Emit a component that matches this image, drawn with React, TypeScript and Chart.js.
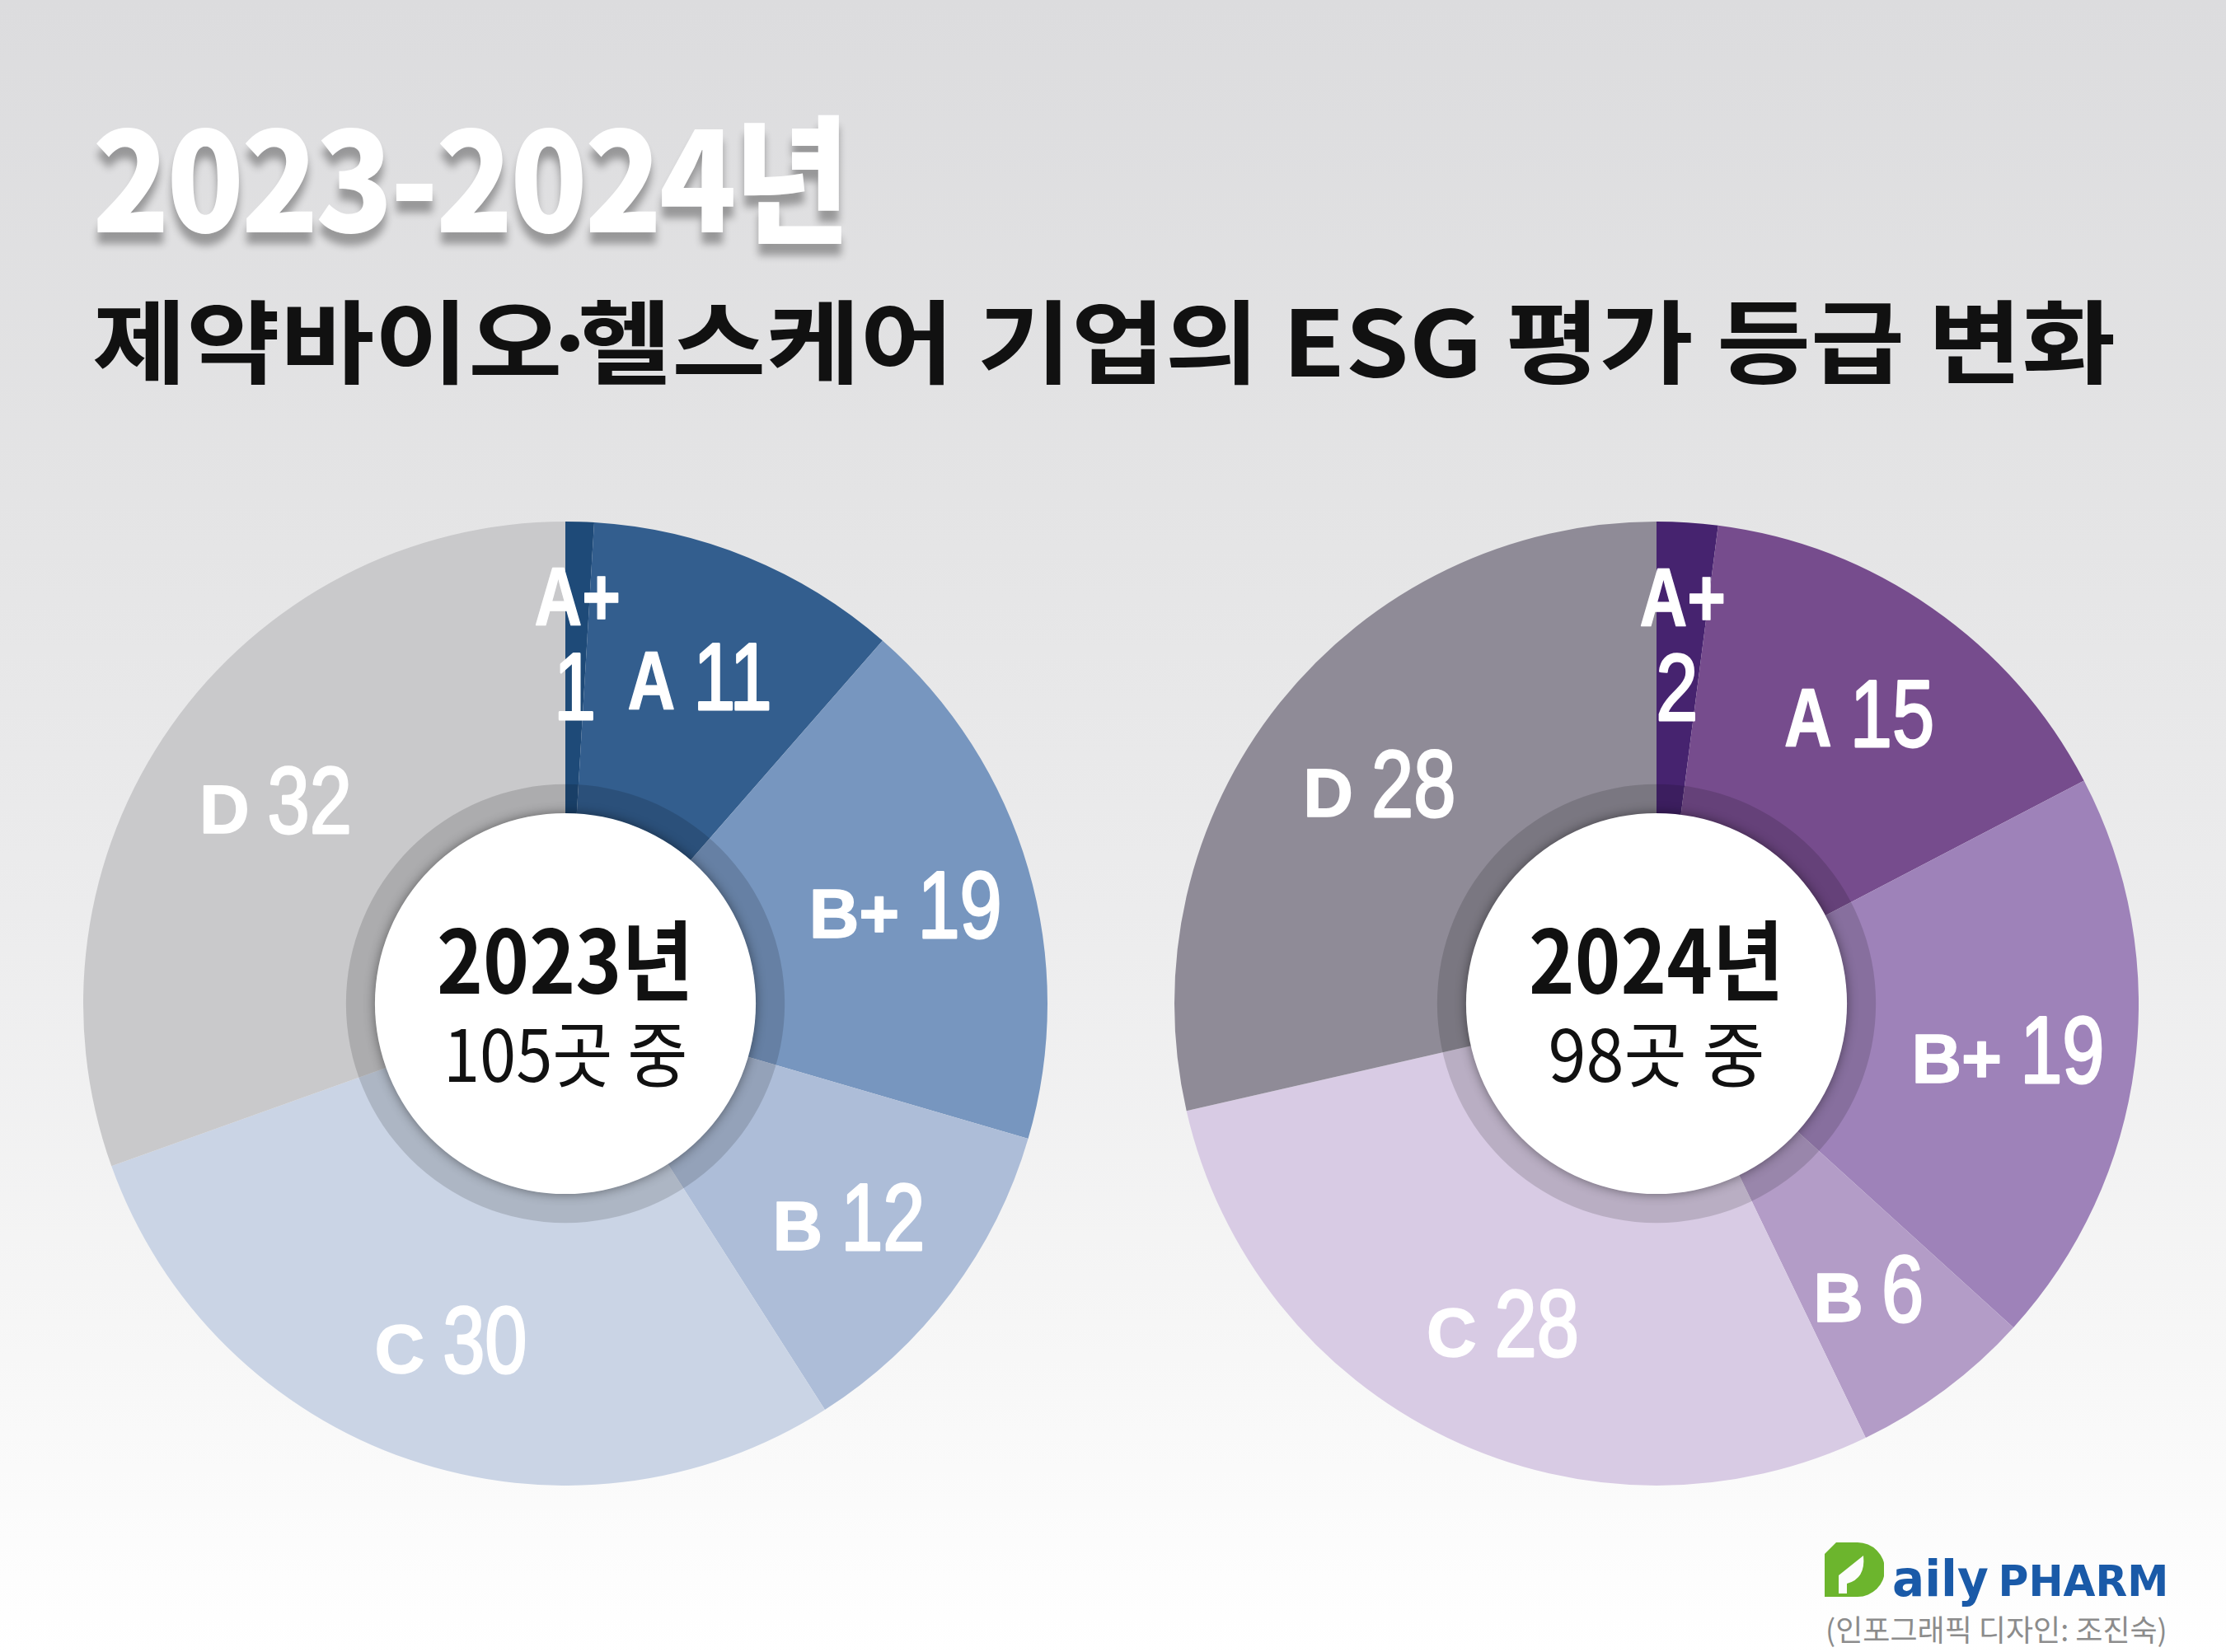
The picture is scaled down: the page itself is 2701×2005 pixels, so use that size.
import React, { useEffect, useLayoutEffect, useRef } from 'react';
import { Chart, registerables } from 'chart.js';

Chart.register(...registerables);

// ---- data ----
const GRADES = ['A+', 'A', 'B+', 'B', 'C', 'D'];
const VALUES_2023 = [1, 11, 19, 12, 30, 32];
const VALUES_2024 = [2, 15, 19, 6, 28, 28];
const COLORS_2023 = ['#1e4a78', '#335e8e', '#7796bf', '#adbdd8', '#cad4e5', '#c9c9cb'];
const COLORS_2024 = ['#46236f', '#764c8d', '#9e82b9', '#b39cc7', '#d8cbe4', '#8f8b97'];
const YEAR_LABELS = ['2023년', '2024년'];
const TITLE = '2023-2024년';
const SUBTITLE_A = '제약바이오';
const SUBTITLE_B = '헬스케어 기업의 ESG 평가 등급 변화';
const CREDIT = '(인포그래픽 디자인: 조진숙)';

// ---- layout ----
const PAGE_W = 2701;
const PAGE_H = 2005;
const R = 585;
const CY = 1218;
const CX = [686, 2010];
const RING_OUT = 0.455;
const RING_IN = 0.395;
const LABEL_R = 0.735;

const CAT_FONT = "'Liberation Sans', Arial, sans-serif";

function drawPart(ctx: CanvasRenderingContext2D, text: string, font: string, sx: number, x: number, y: number, lw: number) {
  ctx.save();
  ctx.font = font;
  ctx.translate(x, y);
  ctx.scale(sx, 1);
  ctx.fillText(text, 0, 0);
  ctx.lineWidth = lw;
  ctx.lineJoin = 'round';
  ctx.strokeText(text, 0, 0);
  ctx.restore();
}

function widthOf(ctx: CanvasRenderingContext2D, text: string, font: string, sx: number) {
  ctx.save();
  ctx.font = font;
  const w = ctx.measureText(text).width * sx;
  ctx.restore();
  return w;
}

const NUM_FONT = `115px ${CAT_FONT}`;
const NUM_SX = 0.8;
const letterStyle = (g: string): [string, number] =>
  g.startsWith('A') ? [`bold 100px ${CAT_FONT}`, 0.8] : [`bold 84px ${CAT_FONT}`, 1];

const piePlugin = {
  id: 'pieDecor',
  afterDatasetsDraw(chart: any) {
    const ctx: CanvasRenderingContext2D = chart.ctx;
    const meta = chart.getDatasetMeta(0);
    const arcs = meta.data as any[];
    if (!arcs.length) return;
    const { x, y } = arcs[0];
    const RR = arcs[0].outerRadius;

    ctx.save();
    ctx.beginPath();
    ctx.arc(x, y, RR * RING_OUT, 0, Math.PI * 2);
    ctx.arc(x, y, RR * RING_IN, 0, Math.PI * 2, true);
    ctx.fillStyle = 'rgba(0,0,0,0.14)';
    ctx.fill();
    ctx.shadowColor = 'rgba(0,0,0,0.45)';
    ctx.shadowBlur = 14;
    ctx.beginPath();
    ctx.arc(x, y, RR * RING_IN, 0, Math.PI * 2);
    ctx.fillStyle = '#ffffff';
    ctx.fill();
    ctx.restore();

    const labels = chart.data.labels as string[];
    const data = chart.data.datasets[0].data as number[];
    ctx.save();
    ctx.fillStyle = '#ffffff';
    ctx.strokeStyle = '#ffffff';
    ctx.textBaseline = 'alphabetic';
    ctx.textAlign = 'left';
    arcs.forEach((arc, i) => {
      const mid = (arc.startAngle + arc.endAngle) / 2;
      const sweep = arc.endAngle - arc.startAngle;
      const g = labels[i];
      const v = String(data[i]);
      const [lf, lsx] = letterStyle(g);
      if (sweep < 0.2) {
        const r1 = RR * 0.846;
        const r2 = RR * 0.66;
        const x1 = x + r1 * Math.cos(mid);
        const y1 = y + r1 * Math.sin(mid);
        const w1 = widthOf(ctx, g, lf, lsx);
        drawPart(ctx, g, lf, lsx, x1 - w1 / 2, y1 + 36, 1.5);
        const x2 = x + r2 * Math.cos(mid);
        const y2 = y + r2 * Math.sin(mid);
        const w2 = widthOf(ctx, v, NUM_FONT, NUM_SX);
        drawPart(ctx, v, NUM_FONT, NUM_SX, x2 - w2 / 2, y2 + 41, 3);
        return;
      }
      const r = RR * LABEL_R;
      const px = x + r * Math.cos(mid);
      const py = y + r * Math.sin(mid);
      const wl = widthOf(ctx, g, lf, lsx);
      const wn = widthOf(ctx, v, NUM_FONT, NUM_SX);
      const gap = 22;
      const start = px - (wl + gap + wn) / 2;
      const base = py + 41;
      drawPart(ctx, g, lf, lsx, start, base, 1.5);
      drawPart(ctx, v, NUM_FONT, NUM_SX, start + wl + gap, base, 3);
    });
    ctx.restore();
  },
};

function PieChart({ values, colors, cx }: { values: number[]; colors: string[]; cx: number }) {
  const ref = useRef<HTMLCanvasElement>(null);
  useEffect(() => {
    const chart = new Chart(ref.current as HTMLCanvasElement, {
      type: 'pie',
      data: {
        labels: GRADES,
        datasets: [
          {
            data: values,
            backgroundColor: colors,
            borderWidth: 0,
            hoverOffset: 0,
            offset: 0,
          } as any,
        ],
      },
      options: {
        animation: false,
        responsive: false,
        maintainAspectRatio: false,
        events: [],
        layout: { padding: 0 },
        plugins: { legend: { display: false }, tooltip: { enabled: false } },
      },
      plugins: [piePlugin as any],
    });
    return () => chart.destroy();
  }, []);
  return (
    <canvas
      ref={ref}
      width={2 * R}
      height={2 * R}
      style={{ position: 'absolute', left: cx - R, top: CY - R, width: 2 * R, height: 2 * R }}
    />
  );
}

function FitText({
  left,
  top,
  width,
  anchor = 'left',
  style,
  children,
}: {
  left: number;
  top: number;
  width: number;
  anchor?: 'left' | 'center';
  style: React.CSSProperties;
  children: React.ReactNode;
}) {
  const ref = useRef<HTMLDivElement>(null);
  useLayoutEffect(() => {
    const el = ref.current;
    if (!el) return;
    el.style.transform = 'none';
    const w = el.offsetWidth;
    const s = w > 0 ? width / w : 1;
    const dx = anchor === 'center' ? -width / 2 : 0;
    el.style.transform = `translateX(${dx}px) scaleX(${s})`;
  }, [width, anchor]);
  return (
    <div
      ref={ref}
      style={{
        position: 'absolute',
        left,
        top,
        whiteSpace: 'nowrap',
        transformOrigin: '0 0',
        fontFamily: "'Noto Sans CJK KR', sans-serif",
        ...style,
      }}
    >
      {children}
    </div>
  );
}

const CENTER_W = [
  [312, 296],
  [310, 263],
];

export default function App() {
  const series = [VALUES_2023, VALUES_2024];
  const colors = [COLORS_2023, COLORS_2024];
  return (
    <div
      style={{
        position: 'absolute',
        left: 0,
        top: 0,
        width: PAGE_W,
        height: PAGE_H,
        overflow: 'hidden',
        background: 'linear-gradient(to bottom, #dcdcde 0%, #e4e4e5 30%, #ececed 55%, #f6f6f6 80%, #ffffff 100%)',
      }}
    >
      <FitText
        left={112}
        top={125}
        width={916}
        style={{
          fontSize: 168,
          lineHeight: '168px',
          fontWeight: 900,
          color: '#ffffff',
          letterSpacing: -4,
          textShadow: '0 14px 10px rgba(0,0,0,0.32)',
        }}
      >
        {TITLE}
      </FitText>
      <FitText
        left={112}
        top={354}
        width={2455}
        style={{ fontSize: 110, lineHeight: '110px', fontWeight: 700, color: '#111111' }}
      >
        {SUBTITLE_A}
        <span style={{ margin: '0 -0.22em' }}>·</span>
        {SUBTITLE_B}
      </FitText>

      {series.map((vals, k) => (
        <PieChart key={k} values={vals} colors={colors[k]} cx={CX[k]} />
      ))}

      {series.map((vals, k) => (
        <React.Fragment key={'c' + k}>
          <FitText
            left={CX[k]}
            top={1107}
            width={CENTER_W[k][0]}
            anchor="center"
            style={{ fontSize: 106, lineHeight: '106px', fontWeight: 700, color: '#111111' }}
          >
            {YEAR_LABELS[k]}
          </FitText>
          <FitText
            left={CX[k]}
            top={1232}
            width={CENTER_W[k][1]}
            anchor="center"
            style={{ fontSize: 87, lineHeight: '87px', fontWeight: 400, color: '#111111' }}
          >
            {`${vals.reduce((a, b) => a + b, 0)}곳 중`}
          </FitText>
        </React.Fragment>
      ))}

      <svg
        width={72}
        height={66}
        viewBox="0 0 72 66"
        style={{ position: 'absolute', left: 2214, top: 1872 }}
      >
        <path d="M14 0 L40 0 A33 33 0 0 1 40 66 L0 66 L0 14 Z" fill="#6cb52d" />
        <path d="M17 62 L17 40 L47 16 Q50 44 27 50 L27 62 Z" fill="#fcfcfc" />
      </svg>
      <FitText
        left={2296}
        top={1886}
        width={335}
        style={{ fontFamily: "'DejaVu Sans', sans-serif", fontWeight: 700, color: '#1a5aa8', lineHeight: '60px' }}
      >
        <span style={{ fontSize: 60 }}>aily</span>
        <span style={{ fontSize: 52, marginLeft: 12 }}>PHARM</span>
      </FitText>
      <FitText
        left={2215}
        top={1958}
        width={415}
        style={{ fontSize: 36, lineHeight: '36px', fontWeight: 400, color: '#8c8c8c' }}
      >
        {CREDIT}
      </FitText>
    </div>
  );
}
